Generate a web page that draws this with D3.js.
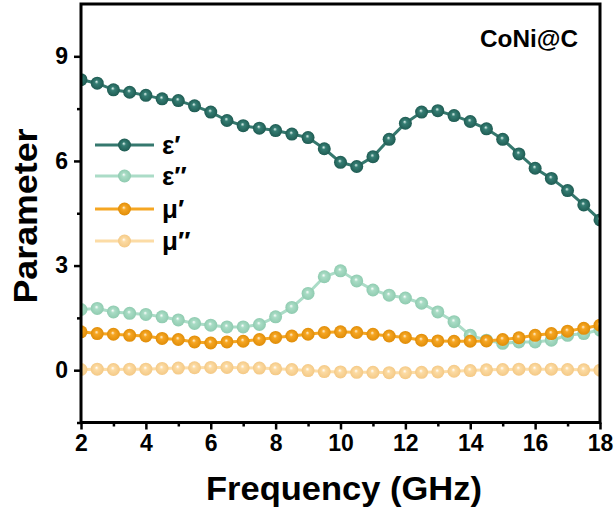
<!DOCTYPE html>
<html>
<head>
<meta charset="utf-8">
<script src="https://cdn.jsdelivr.net/npm/d3@7"></script>
<style>
  body { margin: 0; background: #fff; }
  svg { display: block; font-family: "Liberation Sans", Arial, sans-serif; font-weight: bold; }
</style>
</head>
<body>
<svg id="chart" width="616" height="515"></svg>
<script>
// frequency points (GHz), 0.5 GHz steps
const freq = [2, 2.5, 3, 3.5, 4, 4.5, 5, 5.5, 6, 6.5, 7, 7.5, 8, 8.5, 9, 9.5, 10,
  10.5, 11, 11.5, 12, 12.5, 13, 13.5, 14, 14.5, 15, 15.5, 16, 16.5, 17, 17.5, 18];

const epsReal = [8.33, 8.23, 8.04, 7.97, 7.88, 7.78, 7.73, 7.58, 7.40, 7.16, 7.01, 6.94, 6.87,
  6.77, 6.67, 6.35, 5.96, 5.84, 6.12, 6.62, 7.08, 7.40, 7.44, 7.30, 7.13, 6.92, 6.62,
  6.20, 5.79, 5.50, 5.15, 4.74, 4.31];
const epsImag = [1.74, 1.77, 1.67, 1.63, 1.60, 1.53, 1.44, 1.34, 1.29, 1.24, 1.24, 1.31, 1.53,
  1.80, 2.20, 2.68, 2.85, 2.56, 2.30, 2.15, 2.07, 1.92, 1.67, 1.39, 1.00, 0.86, 0.77,
  0.81, 0.81, 0.86, 1.00, 1.05, 1.15];
const muReal = [1.10, 1.05, 1.03, 1.00, 0.98, 0.91, 0.88, 0.81, 0.78, 0.81, 0.83, 0.88, 0.94,
  0.98, 1.03, 1.08, 1.10, 1.08, 1.03, 0.98, 0.94, 0.86, 0.84, 0.83, 0.83, 0.84, 0.88,
  0.93, 1.00, 1.05, 1.12, 1.20, 1.29];
const muImag = [0.02, 0.03, 0.02, 0.03, 0.03, 0.05, 0.06, 0.07, 0.08, 0.08, 0.07, 0.06, 0.04,
  0.02, -0.01, -0.04, -0.05, -0.06, -0.06, -0.07, -0.07, -0.06, -0.05, -0.03, -0.01, 0.01,
  0.02, 0.03, 0.03, 0.03, 0.02, 0.01, 0.0];

const seriesNames = ["ε′", "ε″", "μ′", "μ″"];
const seriesValues = [epsReal, epsImag, muReal, muImag];
const xTicks = [2, 4, 6, 8, 10, 12, 14, 16, 18];
const yTicks = [0, 3, 6, 9];

// colours: line, sphere base, sphere edge, highlight
const palette = [
  { line: "#35786e", base: "#357d73", edge: "#1f5c53", hi: "#e4f7f2" },
  { line: "#abdcc7", base: "#a9dcc5", edge: "#8fcbb0", hi: "#ffffff" },
  { line: "#f5a622", base: "#f6a623", edge: "#e08d08", hi: "#fff2d8" },
  { line: "#fcdca6", base: "#fcdba3", edge: "#f4c986", hi: "#ffffff" }
];

const svg = d3.select("#chart");
const plotL = 81, plotR = 600, plotT = 4, plotB = 422.5;

const x = d3.scaleLinear().domain([2, 18]).range([plotL, plotR]);
const y = d3.scaleLinear().domain([-1.5, 10.5]).range([plotB, plotT]);

const defs = svg.append("defs");
defs.append("clipPath").attr("id", "plot-clip")
  .append("rect")
  .attr("x", plotL).attr("y", plotT)
  .attr("width", plotR - plotL).attr("height", plotB - plotT);

palette.forEach((c, i) => {
  const g = defs.append("radialGradient")
    .attr("id", "sphere" + i)
    .attr("cx", "50%").attr("cy", "50%").attr("r", "50%")
    .attr("fx", "44%").attr("fy", "38%");
  g.append("stop").attr("offset", "0%").attr("stop-color", c.hi);
  g.append("stop").attr("offset", "30%").attr("stop-color", c.base);
  g.append("stop").attr("offset", "100%").attr("stop-color", c.edge);
});

// series
const plot = svg.append("g").attr("clip-path", "url(#plot-clip)");
const line = d3.line().x((d, i) => x(freq[i])).y(d => y(d));
const R = 6.5;

seriesValues.forEach((vals, s) => {
  const g = plot.append("g");
  g.append("path")
    .datum(vals)
    .attr("d", line)
    .attr("fill", "none")
    .attr("stroke", palette[s].line)
    .attr("stroke-width", 3);
  g.selectAll("circle")
    .data(vals)
    .join("circle")
    .attr("cx", (d, i) => x(freq[i]))
    .attr("cy", d => y(d))
    .attr("r", R)
    .attr("fill", `url(#sphere${s})`);
});

// axes
const xAxis = d3.axisBottom(x).tickValues(xTicks).tickSize(7).tickPadding(5);
const xMinor = d3.axisBottom(x).tickValues([3, 5, 7, 9, 11, 13, 15, 17]).tickSize(4).tickFormat("");
const yAxis = d3.axisLeft(y).tickValues(yTicks).tickSize(7).tickPadding(6);
const yMinor = d3.axisLeft(y).tickValues([-1.5, 1.5, 4.5, 7.5]).tickSize(4).tickFormat("");

function styleAxis(g) {
  g.select(".domain").remove();
  g.selectAll(".tick line").attr("stroke", "#000").attr("stroke-width", 2.5);
  g.selectAll(".tick text")
    .attr("fill", "#000")
    .style("font-size", "23px")
    .style("font-weight", "bold")
    .style("font-family", "'Liberation Sans', Arial, sans-serif");
}

svg.append("g").attr("transform", `translate(0,${plotB})`).call(xAxis).call(styleAxis);
svg.append("g").attr("transform", `translate(0,${plotB})`).call(xMinor).call(styleAxis);
svg.append("g").attr("transform", `translate(${plotL},0)`).call(yAxis).call(styleAxis);
svg.append("g").attr("transform", `translate(${plotL},0)`).call(yMinor).call(styleAxis);

// frame
svg.append("rect")
  .attr("x", plotL).attr("y", plotT)
  .attr("width", plotR - plotL).attr("height", plotB - plotT)
  .attr("fill", "none")
  .attr("stroke", "#000")
  .attr("stroke-width", 3);

// titles
svg.append("text")
  .attr("x", 344).attr("y", 500)
  .attr("text-anchor", "middle")
  .attr("textLength", 276)
  .attr("lengthAdjust", "spacingAndGlyphs")
  .style("font-size", "33px")
  .text("Frequency (GHz)");

svg.append("text")
  .attr("transform", "translate(37,216) rotate(-90)")
  .attr("text-anchor", "middle")
  .attr("textLength", 175)
  .attr("lengthAdjust", "spacingAndGlyphs")
  .style("font-size", "33px")
  .text("Parameter");

svg.append("text")
  .attr("x", 578).attr("y", 47)
  .attr("text-anchor", "end")
  .attr("textLength", 98)
  .attr("lengthAdjust", "spacingAndGlyphs")
  .style("font-size", "23px")
  .text("CoNi@C");

// legend
const legend = svg.append("g");
const legendY = [145, 176, 209, 241];
seriesNames.forEach((name, s) => {
  const row = legend.append("g").attr("transform", `translate(0,${legendY[s]})`);
  row.append("line")
    .attr("x1", 95).attr("x2", 154)
    .attr("y1", 0).attr("y2", 0)
    .attr("stroke", palette[s].line)
    .attr("stroke-width", 3);
  row.append("circle")
    .attr("cx", 124.5).attr("cy", 0).attr("r", R)
    .attr("fill", `url(#sphere${s})`);
  row.append("text")
    .attr("x", 162).attr("y", 9)
    .style("font-size", "26px")
    .text(name);
});
</script>
</body>
</html>
